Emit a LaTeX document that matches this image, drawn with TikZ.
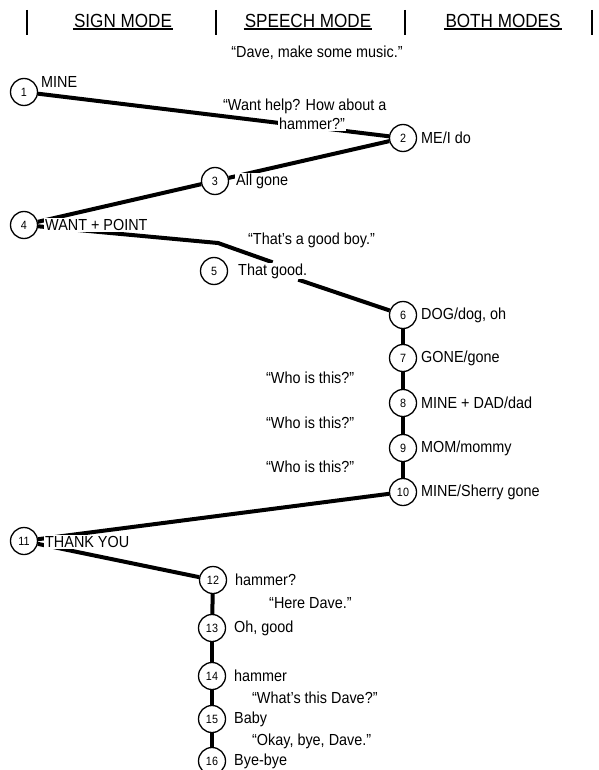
\documentclass[tikz,border=0pt]{standalone}
\usepackage{fontspec}
\setmainfont[FakeStretch=0.9]{Liberation Sans}
\pgfdeclarelayer{bg}
\pgfsetlayers{bg,main}
\tikzset{
  num/.style={circle, draw, line width=1.3pt, fill=white, minimum size=27pt, inner sep=0pt, font=\fontsize{12}{12}\selectfont},
  lab/.style={anchor=west, fill=white, inner sep=1pt, font=\fontsize{16}{16}\selectfont},
  say/.style={anchor=west, inner sep=1pt, font=\fontsize{16}{16}\selectfont},
  hdr/.style={inner sep=1pt, font=\fontsize{19}{19}\selectfont},
  conn/.style={line width=4pt},
  bar/.style={line width=1.2pt},
  uline/.style={line width=1.2pt}
}
\begin{document}
\begin{tikzpicture}[x=1pt,y=-1pt]
\useasboundingbox (0,0) rectangle (598,770);
% header
\node[hdr] (h1) at (123,21) {SIGN MODE};
\node[hdr] (h2) at (308,21) {SPEECH MODE};
\node[hdr] (h3) at (503,21) {BOTH MODES};
\draw[uline] (h1.south west) -- (h1.south east);
\draw[uline] (h2.south west) -- (h2.south east);
\draw[uline] (h3.south west) -- (h3.south east);
\coordinate (b1t) at (27,10); \coordinate (b1b) at (27,35);
\coordinate (b2t) at (216,10); \coordinate (b2b) at (216,35);
\coordinate (b3t) at (405,10); \coordinate (b3b) at (405,35);
\coordinate (b4t) at (592,10); \coordinate (b4b) at (592,35);
\draw[bar] (b1t) -- (b1b);
\draw[bar] (b2t) -- (b2b);
\draw[bar] (b3t) -- (b3b);
\draw[bar] (b4t) -- (b4b);
% speech lines
\node[say, anchor=center] (s0) at (317,53) {“Dave, make some music.”};
\node[say] (s1a) at (222,106) {“Want help? How about a};
\node[say, fill=white] (s1b) at (278,124) {hammer?”};
\node[say] (s2) at (247,240) {“That's a good boy.”};
\node[say] (s3) at (265,378) {“Who is this?”};
\node[say] (s4) at (265,423) {“Who is this?”};
\node[say] (s5) at (265,467) {“Who is this?”};
\node[say] (s6) at (268,603) {“Here Dave.”};
\node[say] (s7) at (251,698) {“What's this Dave?”};
\node[say] (s8) at (251,741) {“Okay, bye, Dave.”};
% numbered nodes
\node[num] (n1) at (24,92) {1};
\node[num] (n2) at (403,138) {2};
\node[num] (n3) at (215,181) {3};
\node[num] (n4) at (24,225) {4};
\node[num] (n5) at (214,271) {5};
\node[num] (n6) at (403,315) {6};
\node[num] (n7) at (403,358) {7};
\node[num] (n8) at (403,403) {8};
\node[num] (n9) at (403,448) {9};
\node[num] (n10) at (403,492) {10};
\node[num] (n11) at (24,541) {11};
\node[num] (n12) at (213,580) {12};
\node[num] (n13) at (212,628) {13};
\node[num] (n14) at (212,676) {14};
\node[num] (n15) at (212,719) {15};
\node[num] (n16) at (212,761) {16};
% labels
\node[lab] (l1) at (40,82) {MINE};
\node[lab] (l2) at (420,138) {ME/I do};
\node[lab] (l3) at (235,181) {All gone};
\node[lab] (l4) at (44,225) {WANT + POINT};
\node[lab] (l5) at (237,271) {That good.};
\node[lab] (l6) at (420,315) {DOG/dog, oh};
\node[lab] (l7) at (420,358) {GONE/gone};
\node[lab] (l8) at (420,403) {MINE + DAD/dad};
\node[lab] (l9) at (420,448) {MOM/mommy};
\node[lab] (l10) at (420,492) {MINE/Sherry gone};
\node[lab] (l11) at (44,542) {THANK YOU};
\node[lab] (l12) at (234,580) {hammer?};
\node[lab] (l13) at (233,628) {Oh, good};
\node[lab] (l14) at (233,676) {hammer};
\node[lab] (l15) at (233,719) {Baby};
\node[lab] (l16) at (233,761) {Bye-bye};
\coordinate (k45) at (218,243);
% connectors
\begin{pgfonlayer}{bg}
\draw[conn] (n1) -- (n2);
\draw[conn] (n2) -- (n3);
\draw[conn] (n3) -- (n4);
\draw[conn] (n4) -- (k45) -- (l5.north);
\draw[conn] (l5) -- (n6);
\draw[conn] (n6) -- (n7);
\draw[conn] (n7) -- (n8);
\draw[conn] (n8) -- (n9);
\draw[conn] (n9) -- (n10);
\draw[conn] (n10) -- (n11);
\draw[conn] (n11) -- (n12);
\draw[conn] (n12) -- (n13);
\draw[conn] (n13) -- (n14);
\draw[conn] (n14) -- (n15);
\draw[conn] (n15) -- (n16);
\end{pgfonlayer}
\end{tikzpicture}
\end{document}
